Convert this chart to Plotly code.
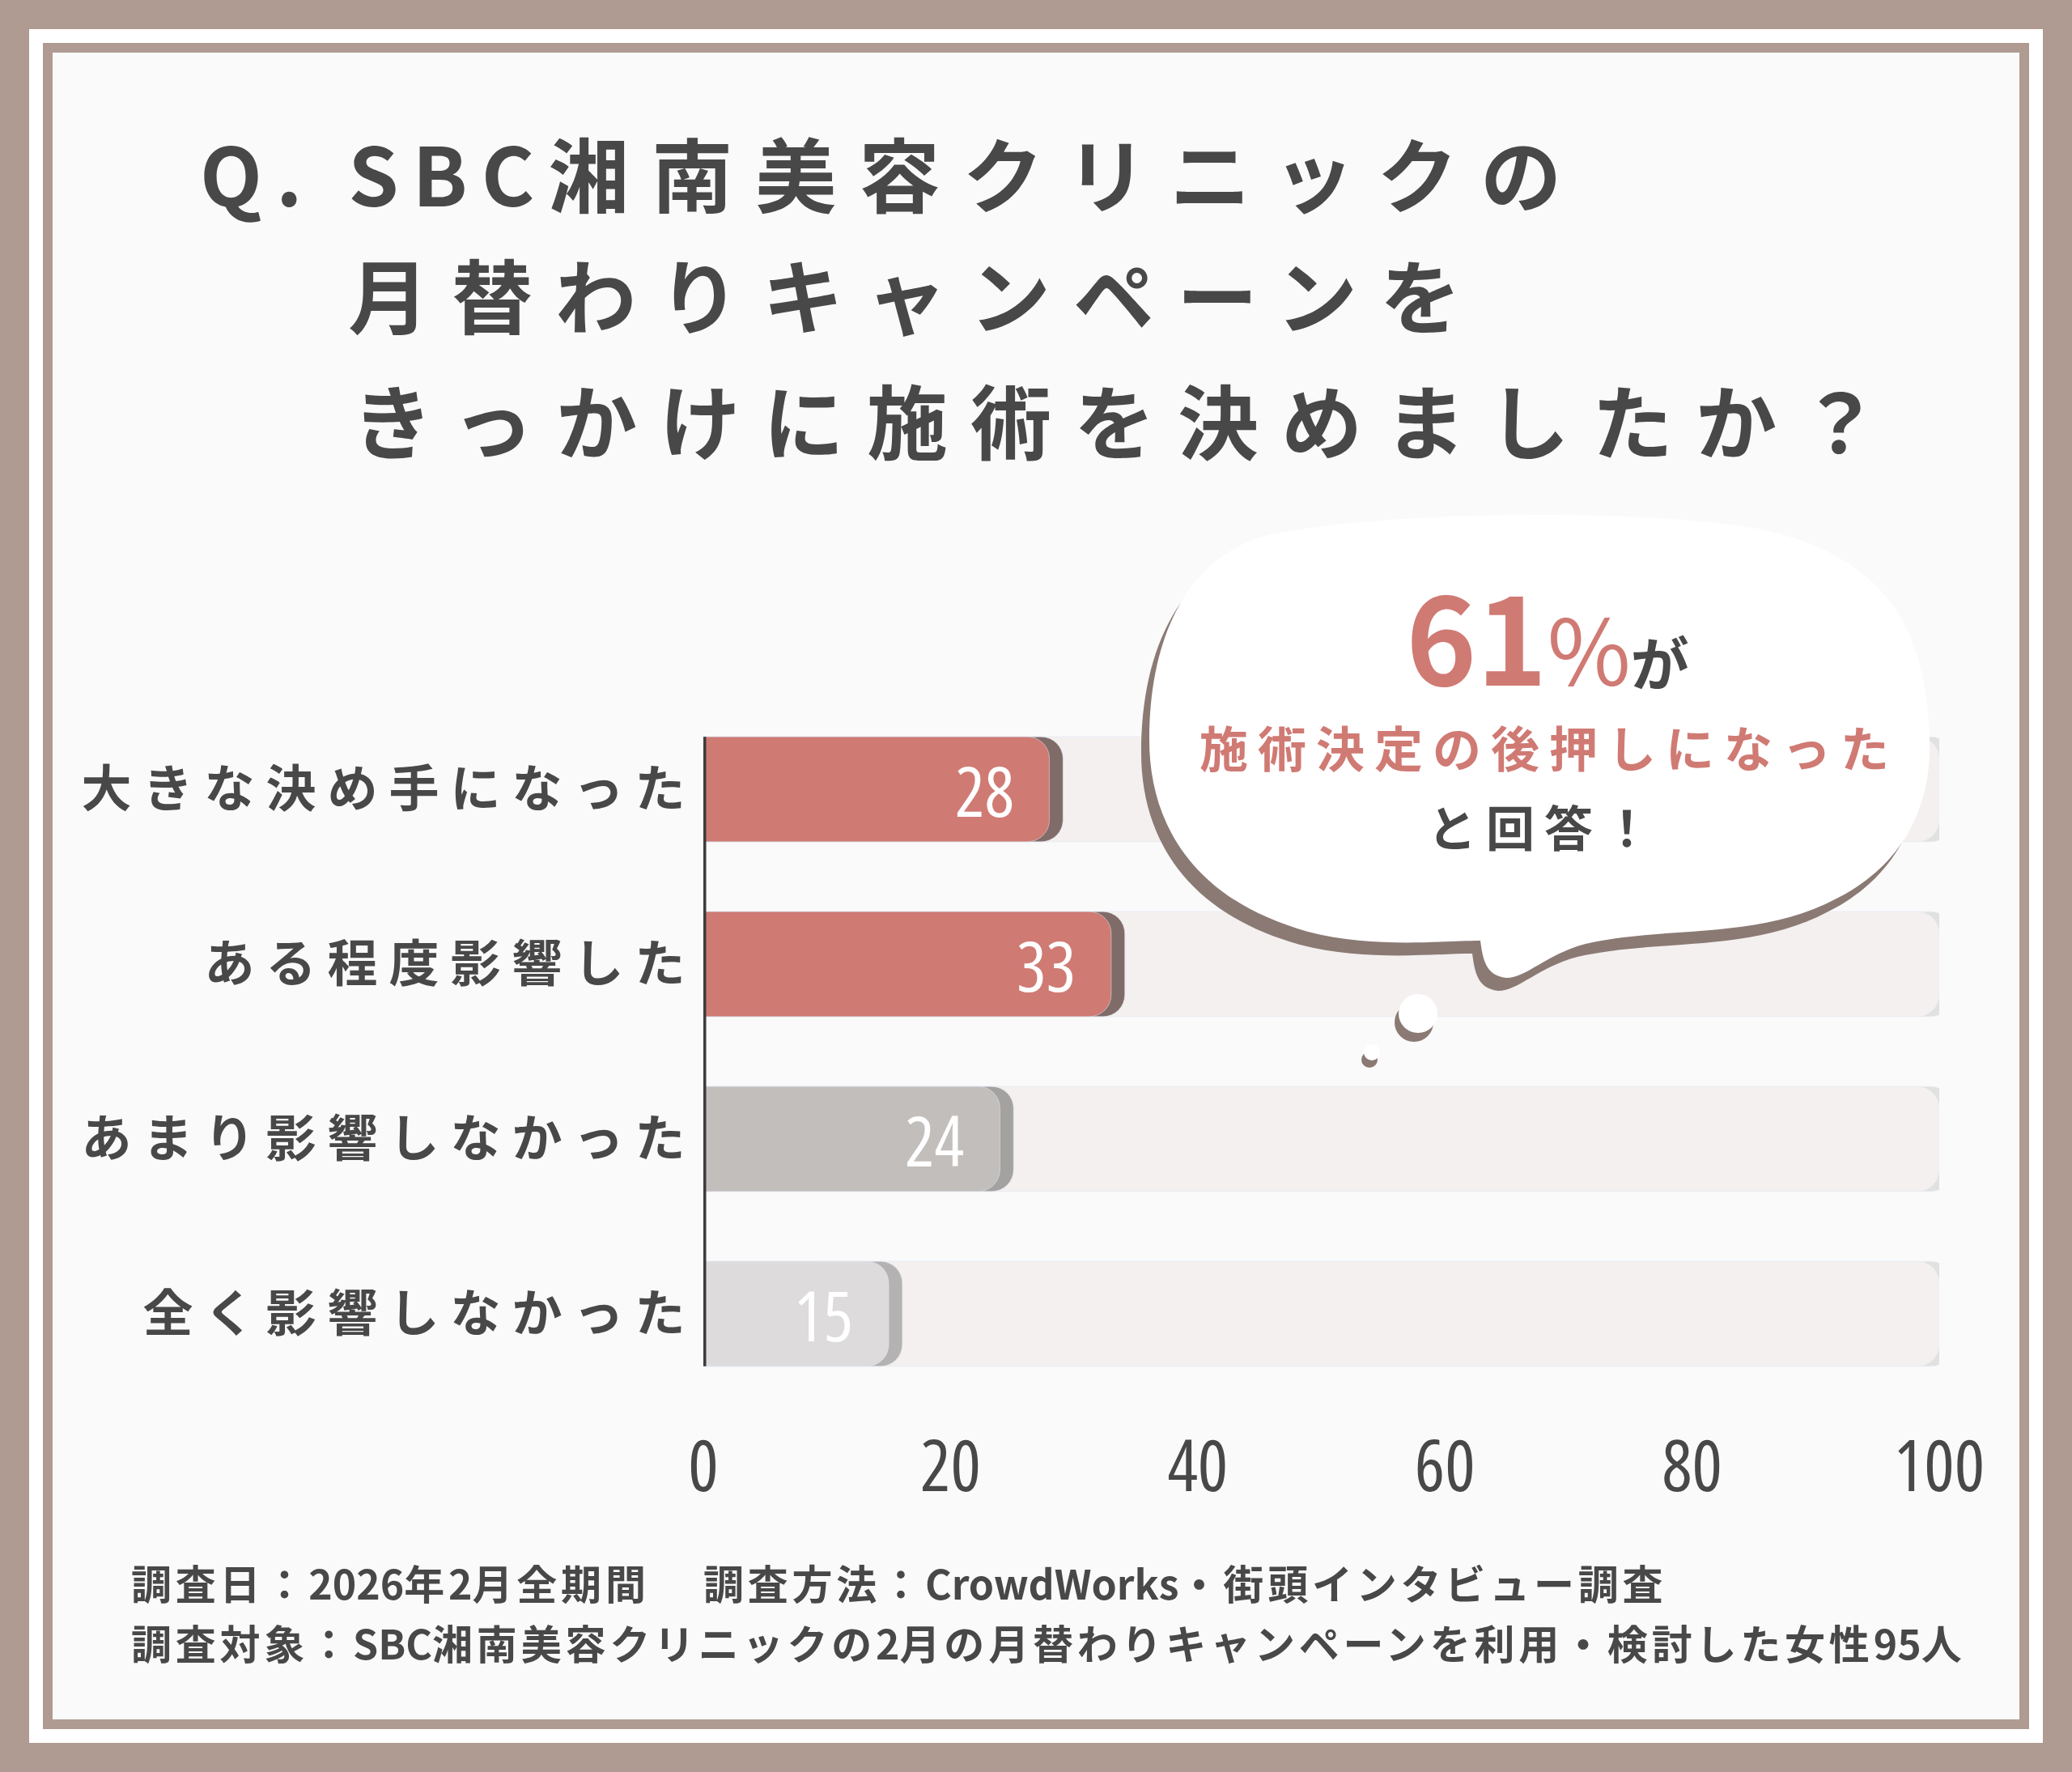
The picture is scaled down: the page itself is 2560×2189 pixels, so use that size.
import plotly.graph_objects as go

W, H = 2560, 2189

# ---- data ----
categories = ["大きな決め手になった", "ある程度影響した", "あまり影響しなかった", "全く影響しなかった"]
values = [28, 33, 24, 15]
scale_max = 100
x_ticks = [0, 20, 40, 60, 80, 100]

title_lines = ["Q. SBC湘南美容クリニックの", "月替わりキャンペーンを", "きっかけに施術を決めましたか？"]
callout_mid = "施術決定の後押しになった"
callout_end = "と回答！"
footnotes = [
    "調査日：2026年2月全期間　 調査方法：CrowdWorks・街頭インタビュー調査",
    "調査対象：SBC湘南美容クリニックの2月の月替わりキャンペーンを利用・検討した女性95人",
]

# ---- style ----
bar_colors = ["#d07a74", "#d07a74", "#c2bebc", "#dddbdc"]
shadow_colors = ["#7f6c69", "#7f6c69", "#a4a2a1", "#b4b2b2"]
TRACK, TRACK_SHADOW = "#f3f0ef", "#e2e1e1"
JP = "Noto Sans CJK JP"
NUM = "Open Sans, Noto Sans CJK JP"
INK = "#484848"
PINK = "#d07a74"
BROWN = "#b09b93"
SHADOW = "#8b7a74"


def px(x):
    return x / W


def py(y):
    return 1 - y / H


def narrow(s):
    return f'<span style="font-stretch:75%">{s}</span>'


def spaced(s, gap, latin_gap=None, trail=True):
    # letter spacing via span styles; latin runs may get a tighter gap
    if latin_gap is None:
        latin_gap = gap
    body, last = (s, "") if trail else (s[:-1], s[-1])
    out, run, run_latin = [], "", None
    for ch in body:
        is_latin = ord(ch) < 128
        if run and is_latin != run_latin:
            out.append((run, run_latin))
            run = ""
        run += ch
        run_latin = is_latin
    if run:
        out.append((run, run_latin))
    html = "".join(f'<span style="letter-spacing:{latin_gap if lat else gap}px">{r}</span>' for r, lat in out)
    return html + last


n = len(categories)
rows = [n - 1 - i for i in range(n)]  # first category on top
shift = 1.1  # shadow offset, axis units

# each layer sits on its own overlaid y axis so every bar gets its own rounded end
fig = go.Figure()
layers = [
    ([scale_max + shift] * n, TRACK_SHADOW, "y"),
    ([scale_max] * n, TRACK, "y2"),
    ([v + shift for v in values], shadow_colors, "y3"),
    (values, bar_colors, "y4"),
]
for xs, color, yax in layers:
    fig.add_bar(y=rows, x=xs, yaxis=yax, orientation="h", hoverinfo="skip", showlegend=False,
                marker=dict(color=color, cornerradius=27))

annotations = []
for r, v in zip(rows, values):
    annotations.append(dict(x=v, y=r, xref="x", yref="y", text=narrow(v), showarrow=False,
                            xanchor="right", xshift=-42, font=dict(family=NUM, size=86, color="white")))

# title
title_pos = [(245, 211), (428, 361), (433, 516)]
for line, (tx, ty) in zip(title_lines, title_pos):
    annotations.append(dict(x=px(tx), y=py(ty), xref="paper", yref="paper", text=spaced(line, 28, 17),
                            showarrow=False, xanchor="left", yanchor="middle",
                            font=dict(family=JP, size=100, color=INK, weight=700)))

# callout text
share = values[0] + values[1]
annotations.append(dict(
    x=px(1912), y=py(782), xref="paper", yref="paper", showarrow=False, xanchor="center", yanchor="middle",
    text=(f'<span style="font-size:148px;color:{PINK}">{share}</span>'
          f'<span style="font-size:112px;font-weight:400;color:{PINK}">%</span>が'),
    font=dict(family=JP, size=72, color=INK, weight=700)))
annotations.append(dict(x=px(1908), y=py(921), xref="paper", yref="paper", showarrow=False,
                        xanchor="center", yanchor="middle", text=spaced(callout_mid, 12, trail=False),
                        font=dict(family=JP, size=60, color=PINK, weight=700)))
annotations.append(dict(x=px(1902), y=py(1019), xref="paper", yref="paper", showarrow=False,
                        xanchor="center", yanchor="middle", text=spaced(callout_end, 12, trail=False),
                        font=dict(family=JP, size=60, color=INK, weight=700)))

# footnotes
for line, fy in zip(footnotes, [1954, 2028]):
    annotations.append(dict(x=px(160), y=py(fy), xref="paper", yref="paper", showarrow=False,
                            xanchor="left", yanchor="middle", text=spaced(line, 4.8, 0),
                            font=dict(family=JP, size=50, color=INK, weight=700)))

shapes = []


def rect(x0, y0, x1, y1, color):
    return dict(type="rect", xref="paper", yref="paper", x0=px(x0), x1=px(x1), y0=py(y1), y1=py(y0),
                fillcolor=color, line=dict(width=0), layer="below")


# frame
shapes.append(rect(36, 36, 2524, 2153, "#ffffff"))
shapes.append(rect(53, 53, 2507, 2136, BROWN))
shapes.append(rect(65, 65, 2495, 2124, "#fafafa"))

# speech bubble
bubble = [
    ("M", [(1829, 1162)]),
    ("C", [(1832, 1184), (1835, 1205), (1861, 1208)]),
    ("C", [(1886, 1208), (1910, 1179), (1959, 1166)]),
    ("C", [(2057, 1143), (2172, 1162), (2269, 1110)]),
    ("C", [(2351, 1069), (2387, 996), (2384, 914)]),
    ("C", [(2381, 784), (2335, 686), (2171, 653)]),
    ("C", [(2041, 629), (1714, 629), (1567, 661)]),
    ("C", [(1469, 686), (1420, 784), (1420, 914)]),
    ("C", [(1420, 1012), (1469, 1110), (1616, 1151)]),
    ("C", [(1698, 1172), (1780, 1162), (1829, 1162)]),
]


def bubble_path(dx, dy):
    parts = []
    for cmd, pts in bubble:
        parts.append(cmd + " ".join(f"{px(x + dx):.5f},{py(y + dy):.5f}" for x, y in pts))
    return " ".join(parts) + " Z"


shapes.append(dict(type="path", xref="paper", yref="paper", path=bubble_path(-10, 16),
                   fillcolor=SHADOW, line=dict(width=0)))
shapes.append(dict(type="path", xref="paper", yref="paper", path=bubble_path(0, 0),
                   fillcolor="#ffffff", line=dict(width=0)))


def dot(cx, cy, r, color):
    return dict(type="circle", xref="paper", yref="paper", x0=px(cx - r), x1=px(cx + r),
                y0=py(cy + r), y1=py(cy - r), fillcolor=color, line=dict(width=0))


shapes.append(dot(1747, 1263, 24, SHADOW))
shapes.append(dot(1752, 1252, 24, "#ffffff"))
shapes.append(dot(1692, 1309, 10, SHADOW))
shapes.append(dot(1695, 1300, 10, "#ffffff"))

# value axis line
shapes.append(dict(type="line", xref="x", yref="y", x0=0, x1=0, y0=min(rows) - 0.3, y1=max(rows) + 0.3,
                   line=dict(color="#3c3c3c", width=7), layer="above"))

y_range = [-0.5, n - 0.5]
y_domain = [py(1731), py(867)]
hidden_y = dict(overlaying="y", range=y_range, showticklabels=False, showgrid=False,
                zeroline=False, showline=False, ticks="", automargin=False)

fig.update_layout(
    width=W, height=H, autosize=False,
    margin=dict(l=0, r=0, t=0, b=0, pad=0),
    paper_bgcolor=BROWN, plot_bgcolor="rgba(0,0,0,0)",
    barmode="overlay", bargap=0.4,
    xaxis=dict(domain=[px(869), px(2396)], range=[0, scale_max], automargin=False,
               tickvals=x_ticks, ticktext=[narrow(t) for t in x_ticks],
               showgrid=False, zeroline=False, showline=False,
               ticks="outside", ticklen=4, tickcolor="rgba(0,0,0,0)",
               tickfont=dict(family=NUM, size=88, color=INK)),
    yaxis=dict(domain=y_domain, range=y_range, automargin=False,
               tickvals=rows, ticktext=[spaced(c, 14, trail=False) for c in categories],
               showgrid=False, zeroline=False, showline=False,
               ticks="outside", ticklen=9, tickcolor="rgba(0,0,0,0)",
               tickfont=dict(family=JP, size=62, color=INK, weight=700)),
    yaxis2=hidden_y, yaxis3=hidden_y, yaxis4=hidden_y,
    annotations=annotations,
    shapes=shapes,
)

fig.write_html("out.html", config={"displayModeBar": False},
               post_script="document.body.style.margin='0';")
